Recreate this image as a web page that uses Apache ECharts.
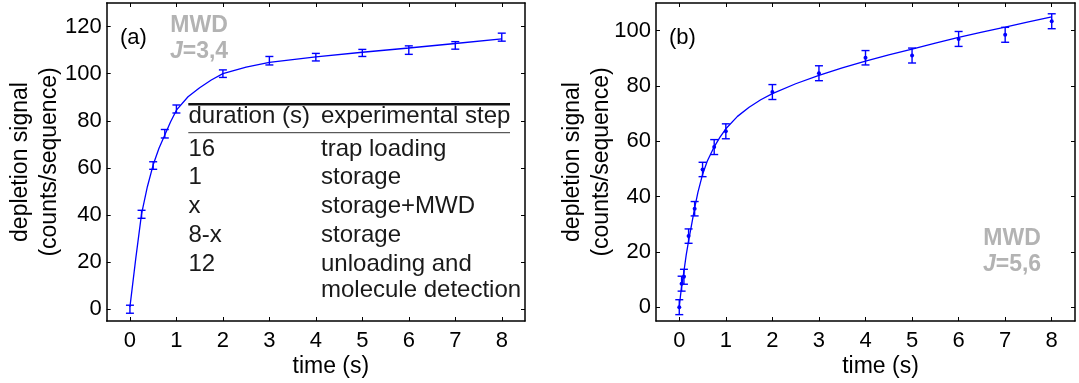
<!DOCTYPE html>
<html>
<head>
<meta charset="utf-8">
<script src="https://cdn.jsdelivr.net/npm/echarts@6/dist/echarts.min.js"></script>
<style>
html, body { margin: 0; padding: 0; background: #fff; }
#chart { width: 1079px; height: 383px; }
</style>
</head>
<body>
<div id="chart"></div>
<script>
// panel (a): MWD J=3,4
const timeA = [0, 0.25, 0.5, 0.75, 1, 2, 3, 4, 5, 6, 7, 8];
const signalA = [0, 40.3, 61, 74.5, 85, 100, 105.5, 107, 108.8, 110, 112, 115.5];
const errA = [1.7, 1.7, 1.6, 1.8, 1.7, 1.6, 1.8, 1.6, 1.5, 1.8, 1.6, 1.7];
// fit curve
const fitTimeA = [0, 0.125, 0.25, 0.375, 0.5, 0.625, 0.75, 0.875, 1, 1.25, 1.5, 1.75, 2, 2.5, 3, 3.5, 4, 5, 6, 7, 8];
const fitA = [1, 21.5, 40.5, 52, 61.3, 68.3, 74, 79.6, 84.5, 90.2, 94, 97.3, 100, 102.8, 104.8, 106, 107.1, 109.1, 110.9, 112.8, 114.8];

// panel (b): MWD J=5,6
const timeB = [0, 0.05, 0.1, 0.2, 0.33, 0.5, 0.75, 1, 2, 3, 4, 5, 6, 7, 8];
const signalB = [0, 8.5, 11, 25.7, 35.6, 49.8, 57.9, 63.6, 77.8, 84.6, 90.2, 91, 97, 98.5, 103.4];
const errB = [2.7, 2.7, 2.7, 2.6, 2.6, 2.6, 2.7, 2.7, 2.7, 2.7, 2.6, 2.7, 2.7, 2.7, 2.7];
const fitTimeB = [0, 0.025, 0.05, 0.1, 0.15, 0.2, 0.25, 0.33, 0.4, 0.5, 0.6, 0.75, 0.875, 1, 1.25, 1.5, 1.75, 2, 2.5, 3, 3.5, 4, 4.5, 5, 5.5, 6, 6.5, 7, 7.5, 8];
const fitB = [0, 4, 7.5, 13, 19, 24, 28.5, 35.8, 41.5, 48, 52.8, 58, 61.5, 64.5, 69, 72.3, 75, 77.2, 80.8, 83.8, 86.5, 89, 91.2, 93.3, 95.5, 97.6, 99.5, 101.3, 103.2, 105];

const xTicks = [0, 1, 2, 3, 4, 5, 6, 7, 8];
const yTicksA = [0, 20, 40, 60, 80, 100, 120];
const yTicksB = [0, 20, 40, 60, 80, 100];

const tableHeader = ['duration (s)', 'experimental step'];
const tableRows = [
  ['16', 'trap loading'],
  ['1', 'storage'],
  ['x', 'storage+MWD'],
  ['8-x', 'storage'],
  ['12', 'unloading and'],
  ['', 'molecule detection']
];

const FONT = 'Liberation Sans, Arial, sans-serif';
const BLUE = '#0000ff';
const GREY = '#b3b3b3';

function xAxis(gridIndex, position, main) {
  return {
    type: 'value', gridIndex, position, min: -0.5, max: 8.5,
    name: main ? 'time (s)' : '',
    nameLocation: 'middle', nameGap: 34, nameMoveOverlap: false,
    nameTextStyle: { fontSize: 23, color: '#000', fontFamily: FONT, padding: [0, 0, 0, 30] },
    axisLine: { show: true, onZero: false, lineStyle: { color: '#000', width: 1.5 } },
    axisTick: { show: true, inside: true, length: 4, customValues: xTicks, lineStyle: { color: '#000', width: 1 } },
    axisLabel: { show: main, customValues: xTicks, margin: 9, fontSize: 22, color: '#000', fontFamily: FONT },
    splitLine: { show: false }
  };
}

function yAxis(gridIndex, position, main, max, ticks, gap) {
  return {
    type: 'value', gridIndex, position, min: -5, max,
    name: main ? 'depletion signal\n(counts/sequence)' : '',
    nameLocation: 'middle', nameGap: gap, nameMoveOverlap: false,
    nameTextStyle: { fontSize: 23, lineHeight: 29, color: '#000', fontFamily: FONT },
    axisLine: { show: true, onZero: false, lineStyle: { color: '#000', width: 1.5 } },
    axisTick: { show: true, inside: true, length: 4, customValues: ticks, lineStyle: { color: '#000', width: 1 } },
    axisLabel: { show: main, customValues: ticks, margin: 5, fontSize: 22, color: '#000', fontFamily: FONT },
    splitLine: { show: false }
  };
}

function errorBars(axisIndex, xs, ys, es, withDot) {
  return {
    type: 'custom',
    xAxisIndex: axisIndex, yAxisIndex: axisIndex,
    data: xs.map((t, i) => [t, ys[i], es[i]]),
    encode: { x: 0, y: 1 },
    z: 3,
    renderItem(params, api) {
      const x = api.value(0), y = api.value(1), e = api.value(2);
      const hi = api.coord([x, y + e]);
      const lo = api.coord([x, y - e]);
      const mid = api.coord([x, y]);
      const style = { stroke: BLUE, lineWidth: 1.4 };
      const children = [
        { type: 'line', shape: { x1: hi[0], y1: hi[1], x2: lo[0], y2: lo[1] }, style },
        { type: 'line', shape: { x1: hi[0] - 4, y1: hi[1], x2: hi[0] + 4, y2: hi[1] }, style },
        { type: 'line', shape: { x1: lo[0] - 4, y1: lo[1], x2: lo[0] + 4, y2: lo[1] }, style }
      ];
      if (withDot) {
        children.push({ type: 'circle', shape: { cx: mid[0], cy: mid[1], r: 2 }, style: { fill: BLUE } });
      }
      return { type: 'group', children };
    }
  };
}

function fitLine(axisIndex, xs, ys) {
  return {
    type: 'line', xAxisIndex: axisIndex, yAxisIndex: axisIndex,
    data: xs.map((t, i) => [t, ys[i]]),
    smooth: false, showSymbol: false, silent: true,
    lineStyle: { color: BLUE, width: 1.3 }, z: 2
  };
}

function label(x, y, text, opts) {
  return {
    type: 'text', x, y, silent: true,
    style: Object.assign({
      text, fill: '#000', fontSize: 22, fontFamily: FONT,
      textAlign: 'left', align: 'left', textVerticalAlign: 'middle', verticalAlign: 'middle'
    }, opts || {})
  };
}

function greyTag(cx, cy, jText) {
  const bold = { fontSize: 23, fontWeight: 'bold', fontFamily: FONT, fill: GREY };
  return [
    label(cx, cy, 'MWD', Object.assign({ textAlign: 'center', align: 'center' }, bold)),
    label(cx, cy + 26, '{i|J}{n|' + jText + '}', Object.assign({
      textAlign: 'center', align: 'center',
      rich: {
        i: Object.assign({ fontStyle: 'italic' }, bold),
        n: Object.assign({}, bold)
      }
    }, bold))
  ];
}

const tableX = [188.5, 321];
const tableRowY = [149.2, 177.5, 206, 235.5, 264.2, 290.8];
const tableText = { fontSize: 24, fill: '#1a1a1a' };
const graphics = [
  label(120, 38, '(a)'),
  label(669, 38, '(b)'),
  ...greyTag(199, 26, '=3,4'),
  ...greyTag(1012, 239, '=5,6'),
  { type: 'line', silent: true, shape: { x1: 188.3, y1: 104.3, x2: 510, y2: 104.3 }, style: { stroke: '#111', lineWidth: 2.5 } },
  { type: 'line', silent: true, shape: { x1: 188.3, y1: 132.7, x2: 510, y2: 132.7 }, style: { stroke: '#333', lineWidth: 1 } },
  label(tableX[0], 116.5, tableHeader[0], tableText),
  label(tableX[1], 116.5, tableHeader[1], tableText)
];
tableRows.forEach((row, i) => {
  graphics.push(label(tableX[0], tableRowY[i], row[0], tableText));
  graphics.push(label(tableX[1], tableRowY[i], row[1], tableText));
});

const chart = echarts.init(document.getElementById('chart'), null, { renderer: 'canvas' });
chart.setOption({
  backgroundColor: '#fff',
  animation: false,
  grid: [
    { left: 106.7, top: 3, width: 418.3, height: 318, outerBoundsMode: 'none' },
    { left: 656, top: 3, width: 419, height: 318, outerBoundsMode: 'none' }
  ],
  xAxis: [
    xAxis(0, 'bottom', true),
    xAxis(0, 'top', false),
    xAxis(1, 'bottom', true),
    xAxis(1, 'top', false)
  ],
  yAxis: [
    yAxis(0, 'left', true, 130, yTicksA, 43),
    yAxis(0, 'right', false, 130, yTicksA, 0),
    yAxis(1, 'left', true, 110, yTicksB, 40),
    yAxis(1, 'right', false, 110, yTicksB, 0)
  ],
  series: [
    fitLine(0, fitTimeA, fitA),
    errorBars(0, timeA, signalA, errA, false),
    fitLine(2, fitTimeB, fitB),
    errorBars(2, timeB, signalB, errB, true)
  ],
  graphic: graphics
});
</script>
</body>
</html>
